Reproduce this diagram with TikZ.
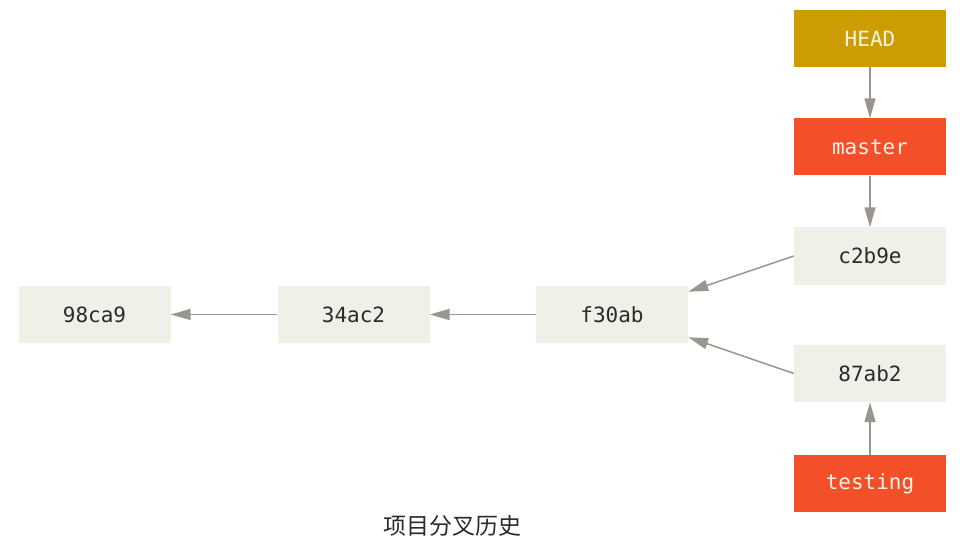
\documentclass[tikz,border=0pt]{standalone}
\usepackage{fontspec}
\setmonofont{DejaVu Sans Mono}
\newfontfamily\cjk{Noto Sans CJK SC}
\usetikzlibrary{arrows.meta,calc}
\definecolor{commitbg}{HTML}{F0EFE8}
\definecolor{headbg}{HTML}{CC9C00}
\definecolor{branchbg}{HTML}{F34F29}
\definecolor{arrowc}{HTML}{9A968F}
\definecolor{txt}{HTML}{2B2B2B}
\definecolor{lighttxt}{HTML}{F5F1E6}
\tikzset{
  box/.style={minimum width=152pt, minimum height=57pt, inner sep=0pt, font=\ttfamily\fontsize{21}{25}\selectfont},
  commit/.style={box, fill=commitbg, text=txt},
  headbox/.style={box, fill=headbg, text=lighttxt},
  branch/.style={box, fill=branchbg, text=lighttxt},
  conn/.style={draw=arrowc, line width=1.5pt, -{Triangle[length=20pt,width=11pt]}, arrowc}
}
\begin{document}
\begin{tikzpicture}[x=1pt,y=-1pt]
\useasboundingbox (0,0) rectangle (960,553);
\node[headbox] (head) at (870,38.5) {HEAD};
\node[branch] (master) at (870,147) {master};
\node[commit] (c2b9e) at (870,256) {c2b9e};
\node[commit] (c98ca9) at (94.5,314.5) {98ca9};
\node[commit] (c34ac2) at (353.5,314.5) {34ac2};
\node[commit] (f30ab) at (612,314.5) {f30ab};
\node[commit] (c87ab2) at (870,373.5) {87ab2};
\node[branch] (testing) at (870,483.5) {testing};
\node[font=\cjk\fontsize{23}{28}\selectfont, text=txt] (cap) at (452,526) {项目分叉历史};
\draw[conn] (head) -- (master);
\draw[conn] (master) -- (c2b9e);
\draw[conn] (testing) -- (c87ab2);
\draw[conn] (f30ab) -- (c34ac2);
\draw[conn] (c34ac2) -- (c98ca9);
\draw[conn] (c2b9e.west) -- ($(f30ab.north east)+(0,6)$);
\draw[conn] (c87ab2.west) -- ($(f30ab.south east)+(0,-6)$);
\end{tikzpicture}
\end{document}
